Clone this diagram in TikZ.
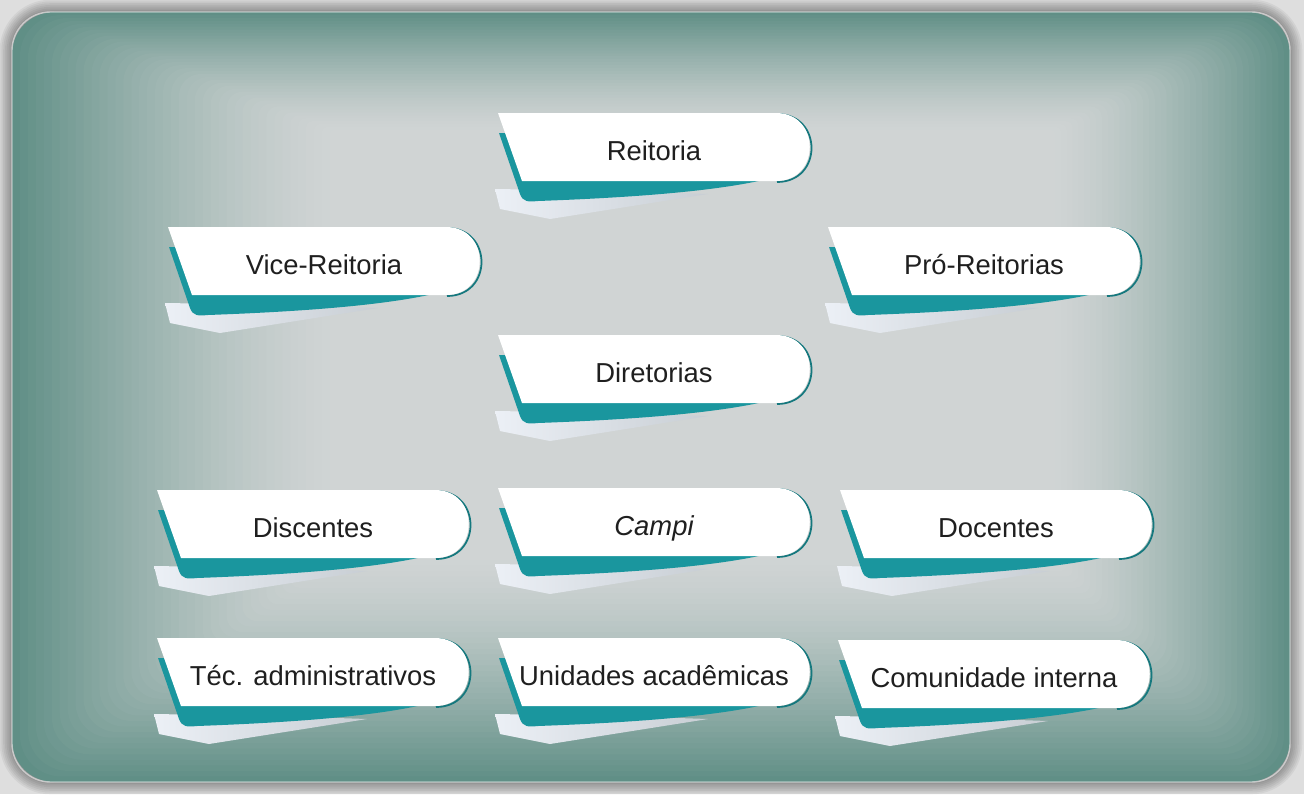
\documentclass[tikz,border=0pt]{standalone}
\usepackage{fontspec}
\setmainfont{Liberation Sans}
\usetikzlibrary{math}
\definecolor{cardteal}{RGB}{26,150,158}
\definecolor{bgteal}{RGB}{96,143,134}
\definecolor{bggray}{RGB}{208,212,212}
\definecolor{framegray}{RGB}{222,222,222}
\definecolor{tailL}{RGB}{236,240,246}
\definecolor{tailR}{RGB}{200,206,212}

\begin{document}
\begin{tikzpicture}
	[x=0.02cm,y=-0.02cm,
	cardtext/.style={anchor=base,inner sep=0pt,text=black!88,font=\fontsize{15.6}{18}\selectfont},
	card/.pic={
		\shade[left color=tailL,right color=tailR] (-3,76) -- (2,96) -- (52,106) -- (210,81) -- (120,78) -- cycle;
		\fill[cardteal] (1,20) -- (22,81) .. controls (25,89) and (30,89) .. (40,88) .. controls (150,84) and (250,76) .. (296,58) -- (300,25) -- cycle;
		\draw[cardteal!80!black,line width=1pt] (279,1) .. controls (325,1) and (325,69) .. (279,69);
		\fill[white] (0,0) -- (278,0) .. controls (323,0) and (323,68) .. (278,68) -- (24,68) -- cycle;
		\node[cardtext] (-txt) at (156,47) {#1};
	}]
	\useasboundingbox (0,0) rectangle (1304,794);
	\fill[framegray] (0,0) rectangle (1304,794);
	\foreach \w in {2,4,...,14}
		\draw[black,opacity=0.05,line width=\w pt,rounded corners=22pt] (12,12) rectangle (1290,782);
	% background frame
	\foreach \i in {0,...,40}{
		\tikzmath{\t=\i/40; \p=100*(1-\t)^1.4; \r=22*(1-\t)+2;}
		\fill[bgteal!\p!bggray,rounded corners=\r pt] ({12+318*\t},{12+118*\t}) rectangle ({1290-235*\t},{782-222*\t});
	}
	\draw[white,opacity=0.5,line width=0.8pt,rounded corners=22pt] (12,12) rectangle (1290,782);

	\pic (reit) at (498,113) {card={Reitoria}};
	\pic (vice) at (168,227) {card={Vice-Reitoria}};
	\pic (pro) at (828,227) {card={Pró-Reitorias}};
	\pic (dir) at (498,335) {card={Diretorias}};
	\pic (disc) at (157,490) {card={Discentes}};
	\pic (camp) at (498,488) {card={\itshape Campi}};
	\pic (doc) at (840,490) {card={Docentes}};
	\pic (tec) at (157,638) {card={Téc. administrativos}};
	\pic (unid) at (498,638) {card={Unidades acadêmicas}};
	\pic (com) at (838,640) {card={Comunidade interna}};

\end{tikzpicture}
\end{document}
